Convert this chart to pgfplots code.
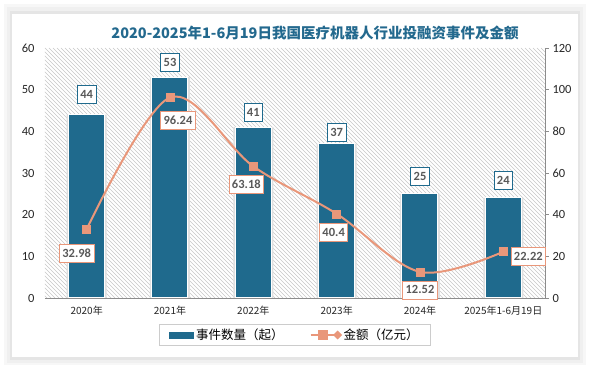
\documentclass[border=0pt]{standalone}
\usepackage{pgfplots}
\usepackage{pgfplotstable}
\pgfplotsset{compat=1.18}
\usepackage{fontspec}
\setmainfont{Carlito}
\newfontfamily\cjk{Noto Sans CJK SC}
\definecolor{barc}{HTML}{1F6A8D}
\definecolor{linec}{HTML}{E9977A}
\definecolor{titc}{HTML}{23698E}
\definecolor{txt}{HTML}{595959}

\pgfplotstableread{
x y dy lab
0 44 20 44
1 53 15 53
2 41 15 41
3 37 11 37
4 25 17 25
5 24 18 24
}\bars
\pgfplotstableread{
x y dx dy lab
0 32.98 -10 -24 32.98
1 96.24 8 -23 96.24
2 63.18 -7 -18 63.18
3 40.4 -3 -19 40.4
4 12.52 0 -18 12.52
5 22.22 25 -5 22.22
}\amt

\begin{document}
\begin{tikzpicture}
\path[use as bounding box] (-45pt,-68pt) rectangle (545pt,298pt);
\fill[black!3] (-41pt,-67pt) rectangle (541pt,294pt);
\fill[black!6] (-38pt,-65pt) rectangle (538pt,291pt);
\fill[black!10] (-35pt,-62pt) rectangle (535pt,287pt);
\fill[white] (-33pt,-59pt) rectangle (533pt,284pt);
\node[font=\cjk\bfseries\fontsize{14.5}{16}\selectfont, text=titc] at (270pt,265pt) {2020-2025年1-6月19日我国医疗机器人行业投融资事件及金额};
\begin{scope}
\clip (0pt,0pt) rectangle (500pt,250pt);
\foreach \i in {-252,-248,...,500} {
  \draw[black!22, line width=0.6pt] (\i pt,250pt) -- ++(250pt,-250pt);
}
\end{scope}

\begin{axis}[
  name=ax1, scale only axis,
  width=500pt, height=250pt,
  xmin=-0.5, xmax=5.5, ymin=0, ymax=60,
  axis lines*=left,
  y axis line style={draw=none},
  x axis line style={draw=black!45, line width=0.8pt},
  xtick={0,1,2,3,4,5},
  xticklabels={2020年,2021年,2022年,2023年,2024年,2025年1-6月19日},
  x tick label style={font=\cjk\fontsize{10}{12}\selectfont, text=black!85, yshift=-5pt},
  ytick={0,10,...,60},
  y tick label style={font=\fontsize{12.5}{14}\selectfont, text=black!85, xshift=-7pt},
  /pgf/number format/assume math mode=true,
  major tick length=0pt,
  clip=false,
]
\addplot[ybar, bar width=40pt, fill=black!12, draw=none, forget plot] table[x=x, y=y] {\bars};
\addplot[ybar, bar width=36pt, fill=barc, draw=white, line width=1pt,
  point meta=explicit symbolic,
  visualization depends on={\thisrow{dy} \as \dy},
  nodes near coords,
  nodes near coords style={anchor=center, yshift=\dy pt, draw=barc, fill=white, line width=0.8pt,
     text=txt, font=\bfseries\fontsize{12.5}{14}\selectfont, inner sep=3pt, minimum height=18pt},
] table[x=x, y=y, meta=lab] {\bars};
\end{axis}

\begin{axis}[
  at={(ax1.south west)}, anchor=south west, scale only axis,
  width=500pt, height=250pt,
  xmin=-0.5, xmax=5.5, ymin=0, ymax=120,
  axis x line=none,
  axis y line*=right,
  y axis line style={draw=black!45, line width=0.8pt},
  ytick={0,20,...,120},
  y tick label style={font=\fontsize{12.5}{14}\selectfont, text=black!85},
  /pgf/number format/assume math mode=true,
  tick style={draw=black!45, line width=0.8pt},
  tick align=outside, major tick length=4pt,
  clip=false,
  legend columns=2,
  legend style={at={(0.5,-0.148)}, anchor=center, draw=black!20, line width=0.8pt,
     font=\cjk\fontsize{12.5}{14}\selectfont, inner xsep=10pt, inner ysep=2pt},
  legend cell align=left,
  /tikz/every even column/.append style={column sep=24pt},
]
\addlegendimage{legend image code/.code={\fill[barc] (0pt,-3pt) rectangle (24pt,3pt);}}
\addlegendentry{事件数量（起）}
\addplot[color=linec, line width=2pt, smooth, tension=0.55,
  mark=square*, mark size=4pt, mark options={fill=linec, draw=linec, line width=0.5pt},
  point meta=explicit symbolic,
  visualization depends on={\thisrow{dx} \as \dx},
  visualization depends on={\thisrow{dy} \as \dy},
  nodes near coords,
  nodes near coords style={anchor=center, xshift=\dx pt, yshift=\dy pt, draw=linec, fill=white, line width=0.8pt,
     text=txt, font=\bfseries\fontsize{12.5}{14}\selectfont, inner sep=3pt, minimum height=18pt},
  legend image code/.code={\draw[linec, line width=2pt] (0pt,0pt) -- (27pt,0pt);
     \fill[linec] (8pt,-4pt) rectangle (16pt,4pt);
     \fill[linec] (27pt,-3pt) -- (30pt,0pt) -- (27pt,3pt) -- (24pt,0pt) -- cycle;},
] table[x=x, y=y, meta=lab] {\amt};
\addlegendentry{金额（亿元）}
\end{axis}
\end{tikzpicture}
\end{document}
